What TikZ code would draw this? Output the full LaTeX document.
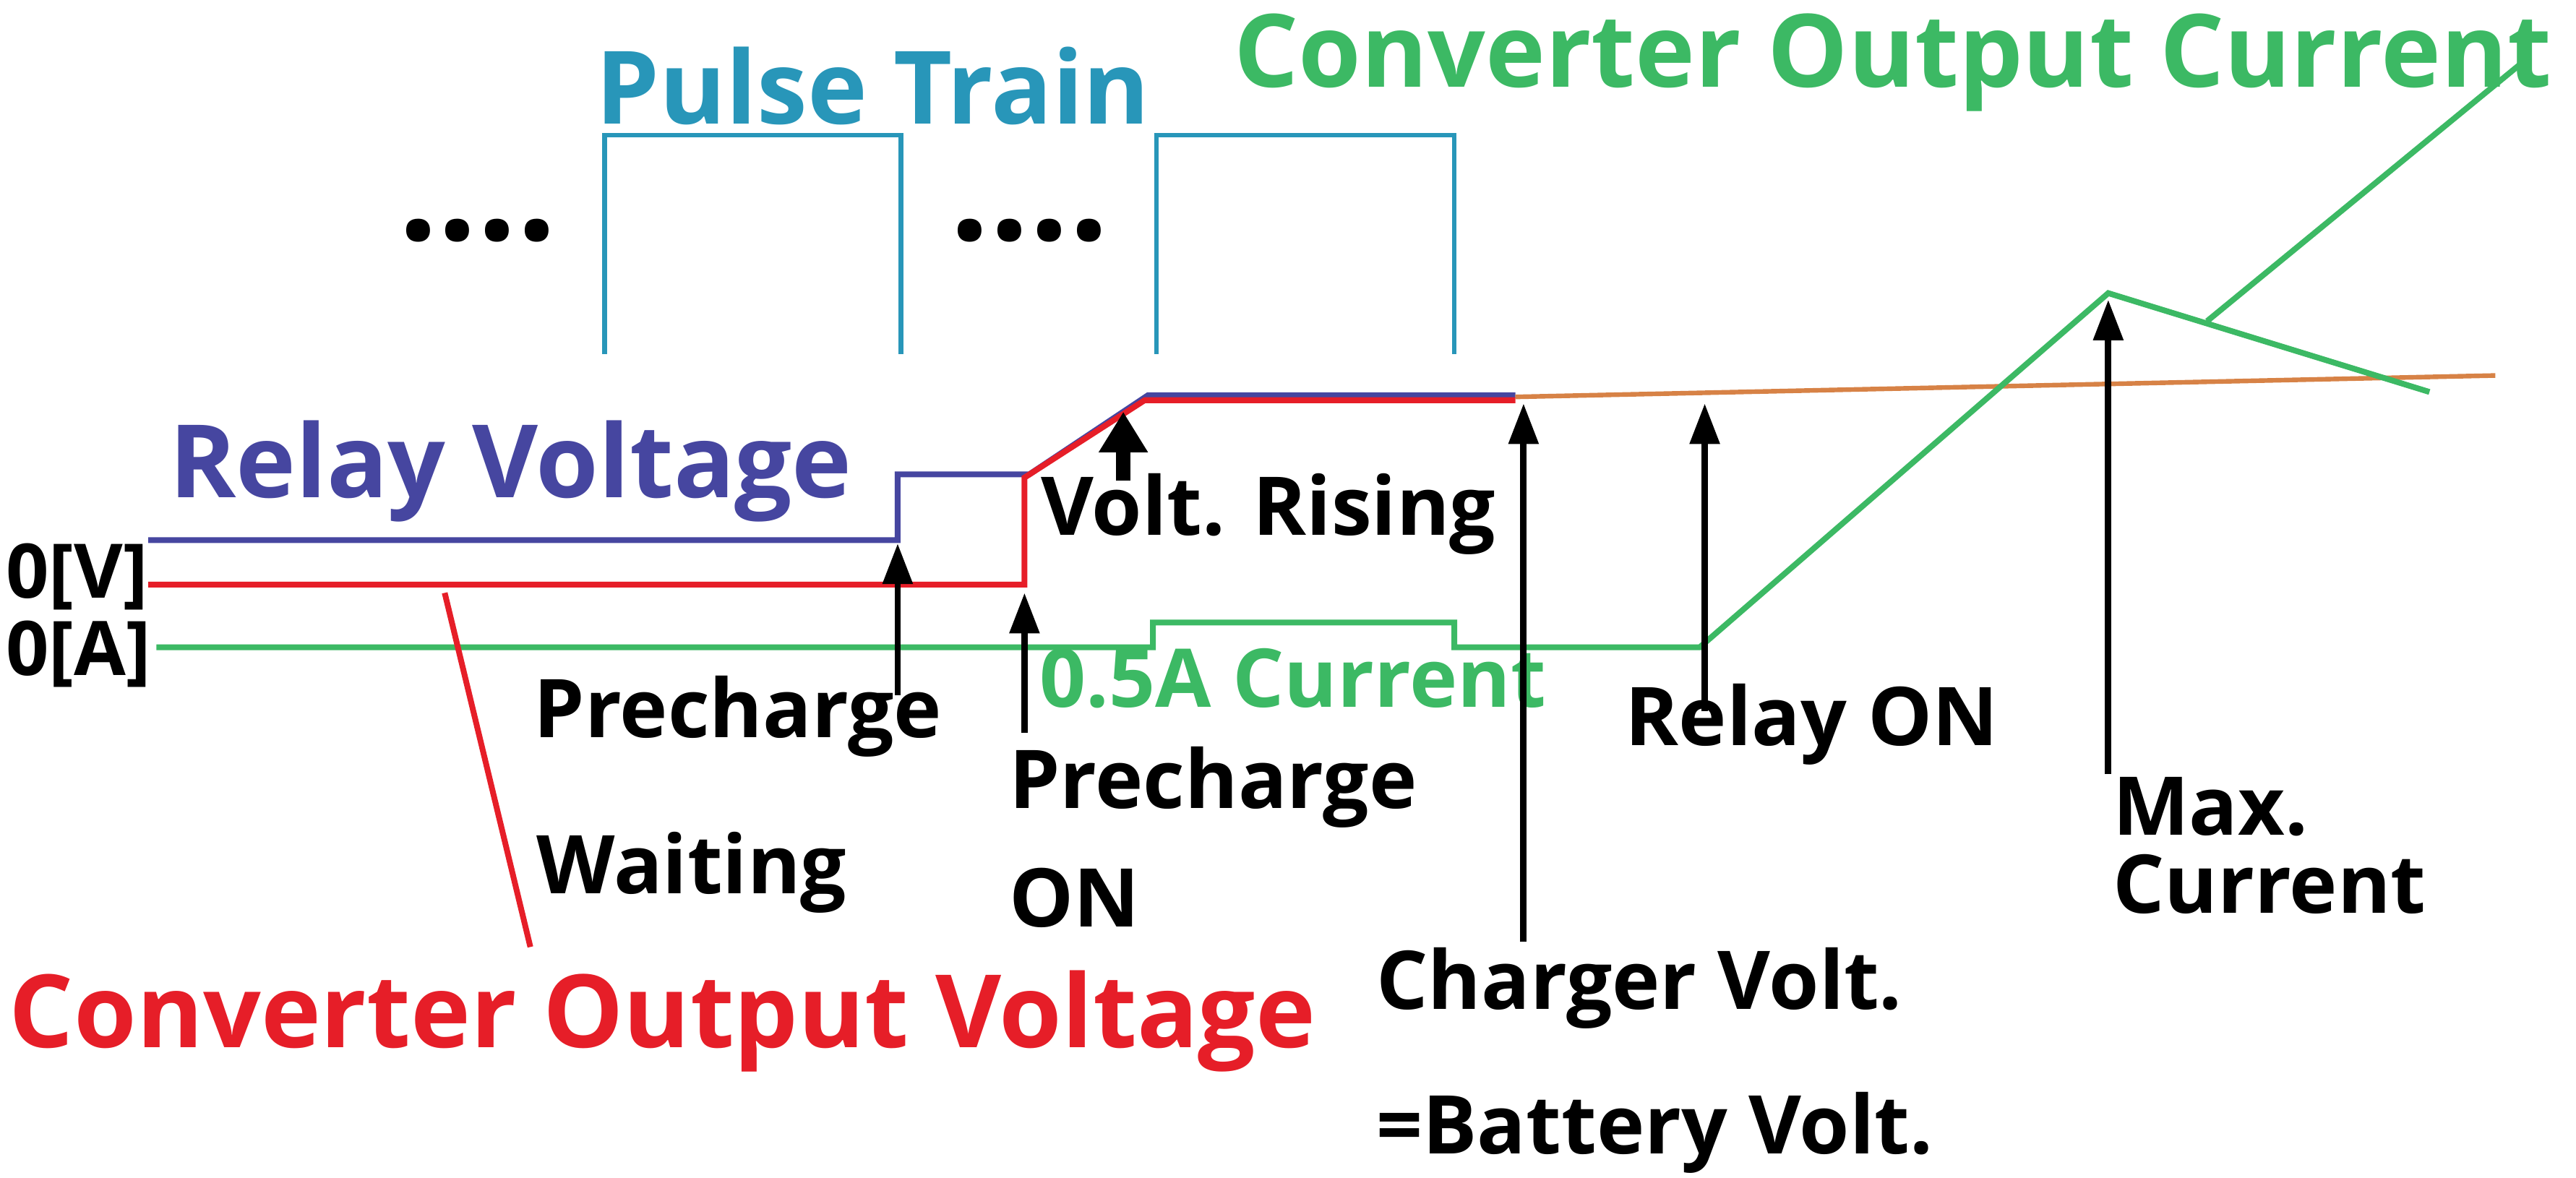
\documentclass[tikz,border=0pt]{standalone}
\usepackage{fontspec}
\setmainfont{Open Sans}
\usetikzlibrary{arrows.meta}
\definecolor{teal1}{RGB}{40,150,185}
\definecolor{blu}{RGB}{70,70,160}
\definecolor{rd}{RGB}{230,30,40}
\definecolor{gr}{RGB}{60,185,100}
\definecolor{orng}{RGB}{215,130,70}
\begin{document}
\begin{tikzpicture}[x=0.01cm,y=-0.01cm,
  lab/.style={font=\fontsize{14}{17}\selectfont\bfseries,inner sep=0pt},
  big/.style={font=\fontsize{17.5}{21}\selectfont\bfseries,inner sep=0pt},
  up/.style={-{Triangle[length=7pt,width=5pt]},line width=1.1pt}]
\useasboundingbox (0,0) rectangle (1564,715);
% pulses
\draw[teal1,line width=0.8pt] (367,215)--(367,82)--(547,82)--(547,215);
\draw[teal1,line width=0.8pt] (702,215)--(702,82)--(883,82)--(883,215);
\node[big,text=teal1] (pt) at (530,52) {Pulse Train};
\node[font=\fontsize{24}{24}\selectfont\bfseries] (d1) at (290,140) {....};
\node[font=\fontsize{24}{24}\selectfont\bfseries] (d2) at (625,140) {....};
% voltages
\draw[blu,line width=1pt] (90,328)--(545,328)--(545,288)--(625,288)--(697,240)--(920,240);
\draw[rd,line width=1pt] (90,355)--(622,355)--(622,290)--(695,243)--(920,243);
\draw[orng,line width=0.8pt] (920,241)--(1515,228);
% current
\draw[gr,line width=1pt] (95,393)--(700,393)--(700,378)--(883,378)--(883,393)--(1032,393)--(1280,178)--(1475,238);
\draw[gr,line width=1pt] (1340,195)--(1535,35);
% labels
\node[lab,anchor=west,font=\fontsize{13}{15}\selectfont\bfseries] (v0) at (3,350) {0[V]};
\node[lab,anchor=west,font=\fontsize{13}{15}\selectfont\bfseries] (a0) at (3,397) {0[A]};
\node[big,text=blu] (rv) at (310,286) {Relay Voltage};
\node[big,text=rd,anchor=west] (cov) at (5,620) {Converter Output Voltage};
\coordinate (rs) at (270,360);
\draw[rd,line width=1pt] (rs)--(322,575);
\node[big,text=gr,anchor=east] (coc) at (1550,38) {Converter Output Current};
\node[lab,text=gr] (hc) at (785,412) {0.5A Current};
\node[lab] (vr) at (770,312) {Volt. Rising};
\coordinate (vra) at (682,292);
\draw[-{Triangle[length=7pt,width=8pt]},line width=2.5pt] (vra)--(682,250);
% arrows
\coordinate (a1) at (545,422); \coordinate (a1t) at (545,330);
\draw[up] (a1)--(a1t);
\coordinate (a2) at (622,445); \coordinate (a2t) at (622,360);
\draw[up] (a2)--(a2t);
\coordinate (a3) at (925,572); \coordinate (a3t) at (925,245);
\draw[up] (a3)--(a3t);
\coordinate (a4) at (1035,432); \coordinate (a4t) at (1035,245);
\draw[up] (a4)--(a4t);
\coordinate (a5) at (1280,470); \coordinate (a5t) at (1280,182);
\draw[up] (a5)--(a5t);
\node[lab] (pc) at (448,435) {Precharge};
\node[lab] (wt) at (420,530) {Waiting};
\node[lab,anchor=west] (pon1) at (612,478) {Precharge};
\node[lab,anchor=west] (pon2) at (612,545) {ON};
\node[lab] (ron) at (1100,440) {Relay ON};
\node[lab,anchor=west] (cv) at (835,600) {Charger Volt.};
\node[lab,anchor=west] (bv) at (835,688) {=Battery Volt.};
\node[lab,anchor=west] (mx1) at (1282,490) {Max.};
\node[lab,anchor=west] (mx2) at (1282,537) {Current};
\end{tikzpicture}
\end{document}
